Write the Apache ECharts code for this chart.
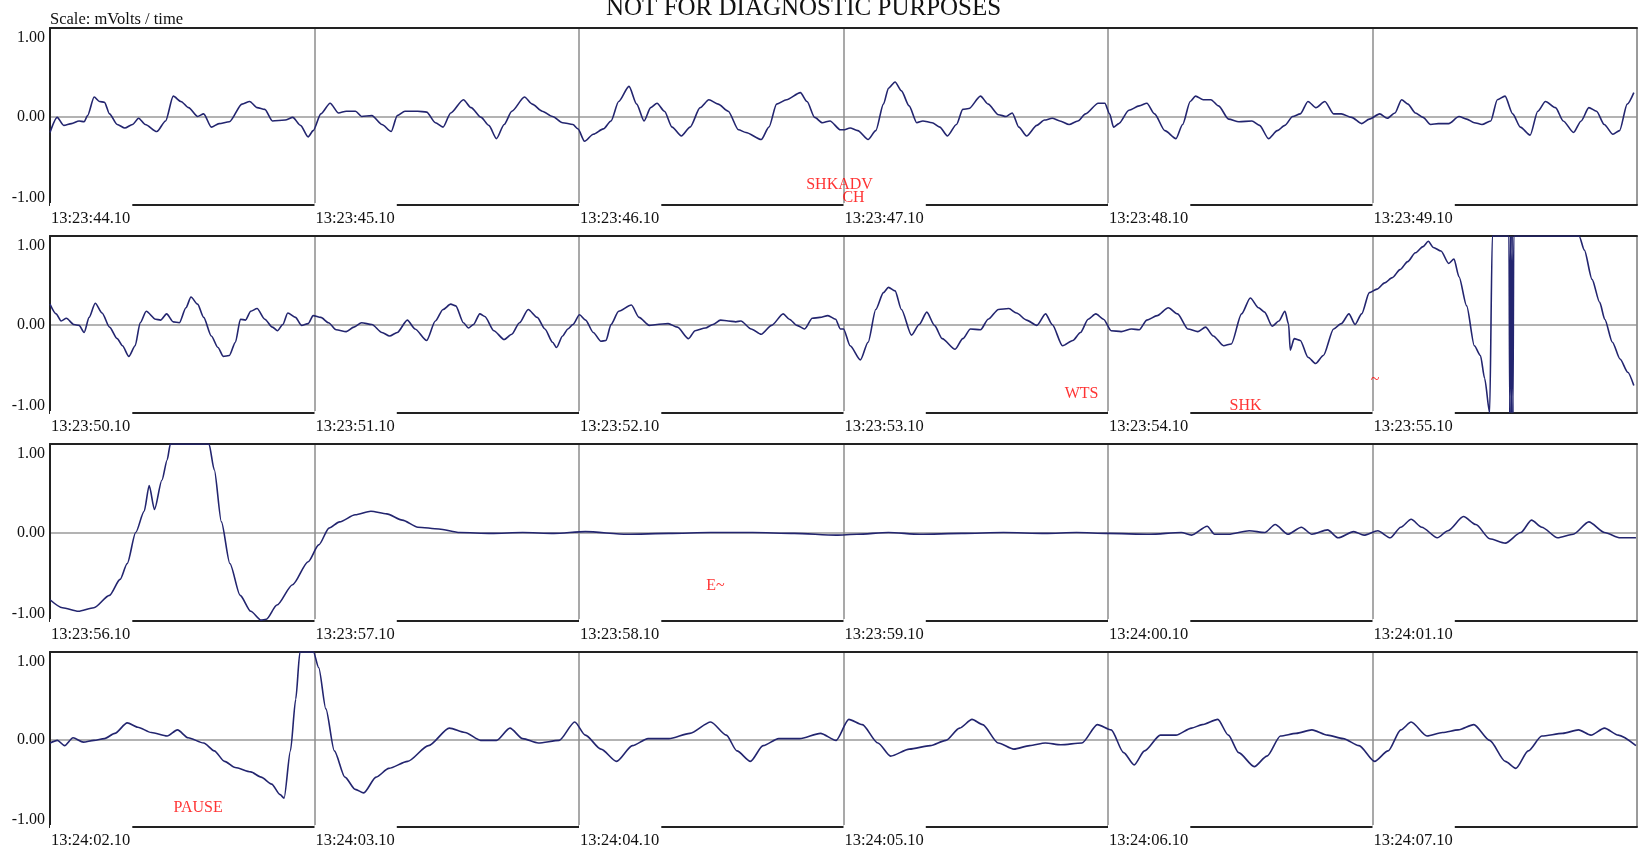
<!DOCTYPE html>
<html>
<head>
<meta charset="utf-8">
<script src="https://cdn.jsdelivr.net/npm/echarts@6/dist/echarts.min.js"></script>
<style>
html,body{margin:0;padding:0;background:#fff;}
#chart{width:1639px;height:849px;}
</style>
</head>
<body>
<div id="chart"></div>
<script>
// ---- Data (time in seconds within each 6 s strip, value in mV) ----
const titleText = 'NOT FOR DIAGNOSTIC PURPOSES';
const scaleText = 'Scale: mVolts / time';
const yTickLabels = ['-1.00', '0.00', '1.00'];

const tickLabelsRow1 = ['13:23:44.10','13:23:45.10','13:23:46.10','13:23:47.10','13:23:48.10','13:23:49.10'];
const tickLabelsRow2 = ['13:23:50.10','13:23:51.10','13:23:52.10','13:23:53.10','13:23:54.10','13:23:55.10'];
const tickLabelsRow3 = ['13:23:56.10','13:23:57.10','13:23:58.10','13:23:59.10','13:24:00.10','13:24:01.10'];
const tickLabelsRow4 = ['13:24:02.10','13:24:03.10','13:24:04.10','13:24:05.10','13:24:06.10','13:24:07.10'];

const ecgRow1 = [
[0.000,-0.18],[0.027,-0.01],[0.052,-0.10],[0.081,-0.08],[0.110,-0.05],[0.129,-0.06],[0.142,0.01],[0.167,0.22],[0.187,0.17],[0.206,0.16],
[0.225,0.03],[0.254,-0.09],[0.283,-0.13],[0.312,-0.09],[0.335,-0.02],[0.360,-0.09],[0.404,-0.17],[0.437,-0.05],[0.466,0.23],[0.495,0.17],
[0.524,0.10],[0.558,0.00],[0.581,0.03],[0.610,-0.12],[0.639,-0.08],[0.678,-0.06],[0.726,0.14],[0.755,0.17],[0.783,0.10],[0.812,0.08],
[0.841,-0.05],[0.889,-0.04],[0.918,-0.01],[0.947,-0.10],[0.976,-0.23],[0.995,-0.16],[1.024,0.03],[1.059,0.15],[1.091,0.04],[1.120,0.06],
[1.155,0.06],[1.178,0.00],[1.217,0.01],[1.255,-0.09],[1.290,-0.17],[1.313,0.01],[1.342,0.06],[1.390,0.06],[1.424,0.05],[1.457,-0.07],
[1.486,-0.12],[1.515,0.04],[1.563,0.19],[1.592,0.10],[1.630,-0.01],[1.659,-0.10],[1.688,-0.25],[1.717,-0.09],[1.746,0.06],[1.794,0.22],
[1.823,0.14],[1.861,0.06],[1.900,0.00],[1.938,-0.07],[1.977,-0.09],[1.996,-0.14],[2.021,-0.28],[2.054,-0.20],[2.092,-0.14],[2.121,-0.05],
[2.150,0.17],[2.189,0.34],[2.218,0.14],[2.246,-0.05],[2.271,0.10],[2.295,0.15],[2.323,0.06],[2.352,-0.12],[2.387,-0.22],[2.420,-0.12],
[2.458,0.10],[2.491,0.19],[2.526,0.14],[2.564,0.06],[2.603,-0.15],[2.631,-0.18],[2.689,-0.26],[2.718,-0.12],[2.747,0.14],[2.785,0.19],
[2.837,0.27],[2.862,0.17],[2.891,-0.01],[2.920,-0.07],[2.949,-0.05],[2.988,-0.15],
[3.000,-0.15],[3.025,-0.13],[3.054,-0.16],[3.093,-0.26],[3.122,-0.16],[3.151,0.14],[3.170,0.32],[3.195,0.39],[3.219,0.29],[3.248,0.12],
[3.277,-0.07],[3.300,-0.05],[3.335,-0.07],[3.364,-0.12],[3.393,-0.22],[3.427,-0.09],[3.451,0.08],[3.474,0.09],[3.518,0.23],[3.547,0.14],
[3.586,0.02],[3.615,0.00],[3.638,0.04],[3.663,-0.12],[3.692,-0.22],[3.731,-0.10],[3.760,-0.04],[3.789,-0.02],[3.818,-0.05],[3.853,-0.09],
[3.886,-0.05],[3.915,0.03],[3.963,0.15],[3.988,0.15],[4.006,0.03],[4.021,-0.12],[4.041,-0.08],[4.079,0.07],[4.118,0.12],[4.147,0.15],
[4.176,0.03],[4.215,-0.16],[4.257,-0.25],[4.282,-0.09],[4.311,0.17],[4.331,0.23],[4.360,0.19],[4.389,0.19],[4.418,0.12],[4.456,-0.03],
[4.495,-0.06],[4.544,-0.05],[4.573,-0.10],[4.607,-0.25],[4.640,-0.16],[4.669,-0.10],[4.698,0.00],[4.727,0.03],[4.756,0.17],[4.786,0.10],
[4.820,0.17],[4.853,0.03],[4.882,0.03],[4.921,-0.01],[4.959,-0.08],[4.988,-0.03],[5.027,0.03],[5.056,-0.02],[5.085,0.04],[5.110,0.19],
[5.134,0.14],[5.162,0.04],[5.191,-0.01],[5.220,-0.09],[5.249,-0.08],[5.288,-0.08],[5.327,0.00],[5.356,-0.03],[5.385,-0.07],[5.414,-0.09],
[5.447,-0.05],[5.472,0.19],[5.501,0.23],[5.530,0.03],[5.559,-0.12],[5.596,-0.21],[5.625,0.06],[5.654,0.17],[5.692,0.10],[5.721,-0.05],
[5.760,-0.18],[5.789,-0.05],[5.818,0.10],[5.847,0.06],[5.876,-0.09],[5.909,-0.20],[5.934,-0.16],[5.963,0.14],[5.988,0.27]
];

const ecgRow2 = [
[0.000,0.23],[0.023,0.12],[0.042,0.04],[0.062,0.07],[0.090,0.00],[0.110,-0.01],[0.129,-0.09],[0.148,0.08],[0.171,0.24],[0.197,0.13],
[0.225,-0.03],[0.254,-0.16],[0.274,-0.24],[0.298,-0.36],[0.322,-0.24],[0.341,0.02],[0.364,0.15],[0.399,0.06],[0.418,0.05],[0.441,0.12],
[0.466,0.03],[0.489,0.02],[0.514,0.19],[0.533,0.31],[0.558,0.23],[0.581,0.08],[0.610,-0.13],[0.635,-0.26],[0.655,-0.36],[0.678,-0.35],
[0.701,-0.20],[0.720,0.06],[0.739,0.05],[0.759,0.15],[0.783,0.18],[0.812,0.06],[0.841,-0.03],[0.860,-0.07],[0.880,0.00],[0.899,0.13],
[0.928,0.08],[0.951,-0.01],[0.976,0.01],[0.995,0.10],[1.024,0.08],[1.053,0.02],[1.082,-0.06],[1.120,-0.08],[1.149,-0.03],[1.178,0.02],
[1.217,0.00],[1.255,-0.09],[1.284,-0.13],[1.313,-0.09],[1.351,0.05],[1.380,-0.05],[1.424,-0.18],[1.457,0.04],[1.486,0.17],[1.515,0.23],
[1.534,0.21],[1.563,0.02],[1.582,-0.04],[1.601,0.00],[1.625,0.12],[1.644,0.09],[1.678,-0.07],[1.717,-0.17],[1.746,-0.11],[1.775,0.02],
[1.808,0.17],[1.842,0.08],[1.871,-0.05],[1.900,-0.20],[1.915,-0.26],[1.938,-0.13],[1.958,-0.05],[1.977,0.00],[2.002,0.11],[2.025,0.05],
[2.054,-0.09],[2.083,-0.19],[2.102,-0.18],[2.121,0.00],[2.150,0.15],[2.198,0.22],[2.227,0.08],[2.266,-0.01],[2.295,0.00],[2.337,0.01],
[2.372,-0.03],[2.414,-0.16],[2.439,-0.07],[2.478,-0.04],[2.506,0.00],[2.535,0.05],[2.564,0.04],[2.593,0.03],[2.612,0.04],[2.651,-0.05],
[2.689,-0.11],[2.728,-0.01],[2.772,0.12],[2.795,0.06],[2.824,-0.01],[2.853,-0.05],[2.882,0.07],[2.911,0.08],[2.941,0.10],[2.970,0.06],
[2.988,-0.05],
[3.000,-0.05],[3.025,-0.24],[3.064,-0.40],[3.093,-0.20],[3.122,0.17],[3.151,0.36],[3.170,0.42],[3.195,0.38],[3.219,0.17],[3.257,-0.12],
[3.286,0.00],[3.315,0.14],[3.344,-0.01],[3.373,-0.16],[3.422,-0.28],[3.451,-0.16],[3.480,-0.05],[3.518,-0.06],[3.547,0.06],[3.586,0.17],
[3.625,0.18],[3.654,0.13],[3.692,0.05],[3.731,-0.01],[3.764,0.12],[3.789,0.00],[3.828,-0.24],[3.867,-0.18],[3.896,-0.09],[3.925,0.06],
[3.954,0.12],[3.983,0.06],[4.012,-0.07],[4.050,-0.08],[4.089,-0.05],[4.118,-0.06],[4.147,0.05],[4.186,0.10],[4.228,0.19],[4.263,0.12],
[4.302,-0.05],[4.340,-0.08],[4.369,-0.03],[4.398,-0.13],[4.437,-0.24],[4.466,-0.22],[4.505,0.12],[4.538,0.30],[4.569,0.19],[4.592,0.14],
[4.621,-0.02],[4.646,0.04],[4.669,0.15],[4.683,0.00],[4.689,-0.29],[4.704,-0.16],[4.727,-0.18],[4.756,-0.37],[4.785,-0.44],[4.814,-0.35],
[4.853,-0.05],[4.882,0.01],[4.911,0.12],[4.934,0.00],[4.959,0.12],[4.988,0.36],[5.017,0.40],[5.046,0.47],[5.075,0.53],[5.104,0.62],
[5.133,0.71],[5.162,0.81],[5.191,0.88],[5.211,0.94],[5.230,0.87],[5.259,0.83],[5.288,0.69],[5.308,0.74],[5.327,0.54],[5.356,0.21],
[5.385,-0.24],[5.408,-0.35],[5.424,-0.61],[5.443,-1.00],[5.453,1.00],[5.516,1.00],[5.519,-1.00],[5.522,1.00],[5.525,-1.00],[5.528,1.00],
[5.531,-1.00],[5.534,1.00],[5.540,1.00],[5.781,1.00],[5.801,0.84],[5.830,0.51],[5.859,0.25],[5.878,0.06],[5.907,-0.20],[5.936,-0.39],
[5.965,-0.54],[5.988,-0.69]
];

const ecgRow3 = [
[0.000,-0.76],[0.047,-0.85],[0.107,-0.89],[0.166,-0.85],[0.225,-0.71],[0.265,-0.53],[0.292,-0.35],[0.324,0.00],[0.356,0.24],[0.375,0.53],
[0.395,0.26],[0.423,0.59],[0.443,0.82],[0.455,1.00],[0.601,1.00],[0.621,0.71],[0.648,0.12],[0.680,-0.35],[0.719,-0.71],[0.759,-0.89],
[0.798,-0.99],[0.818,-0.98],[0.858,-0.82],[0.917,-0.59],[0.976,-0.33],[1.016,-0.14],[1.055,0.05],[1.095,0.12],[1.154,0.20],[1.213,0.24],
[1.273,0.21],[1.332,0.14],[1.391,0.06],[1.470,0.04],[1.549,0.00],[1.668,-0.01],[1.787,0.00],[1.905,-0.01],[2.024,0.01],[2.182,-0.02],
[2.340,-0.01],[2.498,0.00],[2.656,0.00],[2.814,-0.01],[2.972,-0.03],[3.051,-0.02],[3.170,0.00],[3.289,-0.02],[3.447,-0.01],[3.605,0.00],
[3.763,-0.01],[3.881,0.00],[4.000,-0.01],[4.158,-0.02],[4.277,0.00],[4.316,-0.03],[4.375,0.07],[4.403,-0.02],[4.455,-0.02],[4.534,0.02],
[4.593,0.00],[4.632,0.09],[4.680,-0.02],[4.731,0.06],[4.771,-0.02],[4.830,0.03],[4.870,-0.06],[4.929,0.01],[4.968,-0.03],[5.020,0.02],
[5.067,-0.06],[5.107,0.06],[5.146,0.15],[5.186,0.06],[5.245,-0.06],[5.285,0.02],[5.344,0.18],[5.391,0.09],[5.443,-0.07],[5.502,-0.12],
[5.561,0.00],[5.601,0.14],[5.640,0.06],[5.700,-0.06],[5.759,-0.02],[5.818,0.12],[5.877,0.00],[5.937,-0.06],[5.996,-0.06]
];

const ecgRow4 = [
[0.000,-0.04],[0.028,-0.01],[0.055,-0.07],[0.087,0.02],[0.126,-0.03],[0.166,-0.01],[0.206,0.01],[0.245,0.07],[0.292,0.19],[0.332,0.14],
[0.383,0.08],[0.443,0.04],[0.482,0.11],[0.522,0.02],[0.581,-0.04],[0.621,-0.13],[0.660,-0.25],[0.700,-0.32],[0.759,-0.37],[0.798,-0.43],
[0.838,-0.51],[0.870,-0.63],[0.885,-0.67],[0.909,-0.13],[0.929,0.46],[0.945,1.00],[0.996,1.00],[1.016,0.82],[1.043,0.35],[1.075,-0.13],
[1.115,-0.43],[1.154,-0.57],[1.186,-0.61],[1.233,-0.43],[1.281,-0.33],[1.352,-0.25],[1.431,-0.07],[1.510,0.13],[1.569,0.08],[1.628,-0.01],
[1.688,-0.01],[1.739,0.13],[1.787,0.01],[1.846,-0.04],[1.925,-0.01],[1.984,0.20],[2.024,0.05],[2.083,-0.11],[2.142,-0.25],[2.202,-0.07],
[2.261,0.01],[2.340,0.01],[2.419,0.07],[2.498,0.20],[2.557,0.05],[2.597,-0.13],[2.648,-0.25],[2.696,-0.07],[2.755,0.01],[2.834,0.01],
[2.913,0.07],[2.972,-0.01],[3.020,0.23],[3.071,0.17],[3.130,-0.04],[3.178,-0.19],[3.249,-0.11],[3.328,-0.07],[3.387,-0.01],[3.439,0.13],
[3.486,0.23],[3.526,0.17],[3.585,-0.04],[3.644,-0.11],[3.704,-0.07],[3.763,-0.04],[3.822,-0.06],[3.901,-0.04],[3.960,0.17],[4.012,0.11],
[4.059,-0.15],[4.099,-0.29],[4.138,-0.13],[4.198,0.05],[4.257,0.05],[4.316,0.13],[4.356,0.17],[4.415,0.23],[4.455,0.05],[4.494,-0.15],
[4.553,-0.31],[4.601,-0.19],[4.652,0.04],[4.711,0.07],[4.771,0.11],[4.830,0.05],[4.889,0.01],[4.949,-0.07],[5.008,-0.25],[5.059,-0.13],
[5.107,0.11],[5.146,0.20],[5.206,0.04],[5.265,0.08],[5.324,0.11],[5.383,0.17],[5.443,-0.01],[5.502,-0.25],[5.542,-0.33],[5.589,-0.13],
[5.640,0.04],[5.719,0.07],[5.779,0.11],[5.826,0.05],[5.877,0.13],[5.929,0.05],[5.996,-0.07]
];

// annotations: [time, value, text]
const notesRow1 = [[2.985,-0.77,'SHKADV'],[3.038,-0.92,'CH']];
const notesRow2 = [[3.90,-0.78,'WTS'],[4.52,-0.92,'SHK'],[5.01,-0.62,'~']];
const notesRow3 = [[2.516,-0.60,'E~']];
const notesRow4 = [[0.56,-0.78,'PAUSE']];

// ---- Build chart ----
const rows = [
  {data: ecgRow1, ticks: tickLabelsRow1, notes: notesRow1},
  {data: ecgRow2, ticks: tickLabelsRow2, notes: notesRow2},
  {data: ecgRow3, ticks: tickLabelsRow3, notes: notesRow3},
  {data: ecgRow4, ticks: tickLabelsRow4, notes: notesRow4}
];
const FONT = 'Liberation Serif';
const gridTop = 28, rowStep = 208, rowH = 177;

const grids = [], xAxes = [], yAxes = [], series = [];
rows.forEach((r, i) => {
  grids.push({left: 50, right: 2, top: gridTop + i * rowStep, height: rowH,
    show: true, borderColor: '#8a8a8a', borderWidth: 1});
  xAxes.push({
    type: 'value', gridIndex: i, min: 0, max: 6, interval: 1, position: 'bottom',
    axisLine: {show: true, onZero: false, lineStyle: {color: '#222', width: 2}},
    axisTick: {show: false},
    splitLine: {show: true, lineStyle: {color: '#8c8c8c', width: 1.5}},
    axisLabel: {
      show: true, showMaxLabel: false, showMinLabel: true,
      formatter: v => r.ticks[Math.round(v)] || '',
      align: 'left', margin: -2, padding: [7, 2, 0, 1],
      backgroundColor: '#fff',
      fontFamily: FONT, fontSize: 16.5, color: '#111'
    }
  });
  xAxes.push({
    type: 'value', gridIndex: i, min: 0, max: 6, position: 'top',
    axisLine: {show: true, onZero: false, lineStyle: {color: '#222', width: 2}},
    axisTick: {show: false}, axisLabel: {show: false}, splitLine: {show: false}
  });
  yAxes.push({
    type: 'value', gridIndex: i, min: -1, max: 1, interval: 1,
    axisLine: {show: true, onZero: false, lineStyle: {color: '#222', width: 2}},
    axisTick: {show: false},
    splitLine: {show: true, lineStyle: {color: '#9a9a9a', width: 1.5}},
    axisLabel: {
      margin: 5, fontFamily: FONT, fontSize: 16, color: '#111',
      formatter: v => v === 1 ? '{t|' + yTickLabels[2] + '}' : (v === -1 ? '{b|' + yTickLabels[0] + '}' : '{m|' + yTickLabels[1] + '}'),
      rich: {
        t: {fontFamily: FONT, fontSize: 16, color: '#111', padding: [20, 0, 0, 0]},
        b: {fontFamily: FONT, fontSize: 16, color: '#111', padding: [0, 0, 14, 0]},
        m: {fontFamily: FONT, fontSize: 16, color: '#111', padding: [0, 0, 0, 0]}
      }
    }
  });
  series.push({
    type: 'line', xAxisIndex: i * 2, yAxisIndex: i, data: r.data,
    showSymbol: false, symbol: 'none', smooth: 0.25, smoothMonotone: 'x', clip: true,
    lineStyle: {color: '#23256f', width: 1.6}, z: 3, animation: false
  });
  series.push({
    type: 'scatter', xAxisIndex: i * 2, yAxisIndex: i, symbolSize: 0,
    data: r.notes.map(n => ({value: [n[0], n[1]], name: n[2]})),
    label: {show: true, position: 'inside', formatter: p => p.name,
      fontFamily: FONT, fontSize: 16, color: '#ff0000'},
    z: 4, animation: false, silent: true
  });
});

const chart = echarts.init(document.getElementById('chart'), null, {renderer: 'canvas'});
chart.setOption({
  backgroundColor: '#fff',
  animation: false,
  title: [
    {text: titleText, left: 601, top: -9, textStyle: {fontFamily: FONT, fontSize: 25, fontWeight: 'normal', color: '#111'}},
    {text: scaleText, left: 45, top: 6, textStyle: {fontFamily: FONT, fontSize: 16.5, fontWeight: 'normal', color: '#111'}}
  ],
  grid: grids, xAxis: xAxes, yAxis: yAxes, series: series
});
</script>
</body>
</html>
